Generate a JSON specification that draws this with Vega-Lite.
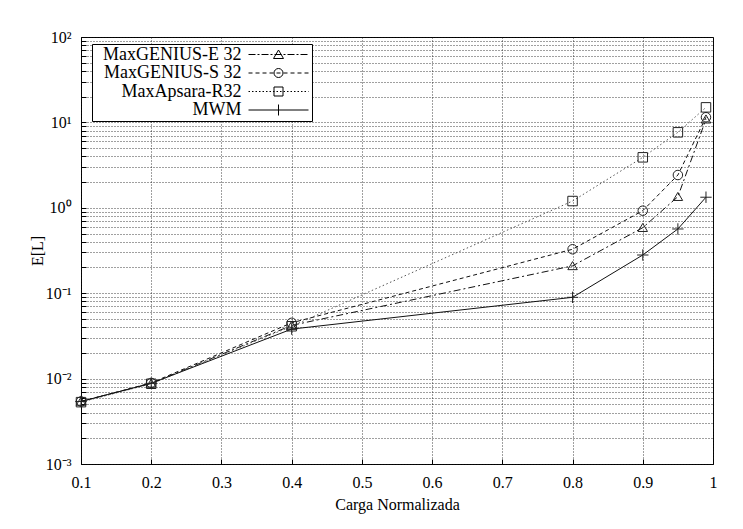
{
  "$schema": "https://vega.github.io/schema/vega-lite/v6.json",
  "width": 632,
  "height": 427,
  "autosize": {"type": "none"},
  "padding": {"left": 81, "top": 37, "right": 30, "bottom": 65},
  "background": "white",
  "config": {
    "view": {"stroke": "black", "strokeWidth": 1},
    "font": "Liberation Serif",
    "axis": {
      "labelFont": "Liberation Serif",
      "titleFont": "Liberation Serif",
      "labelFontSize": 16,
      "titleFontSize": 16,
      "titleFontWeight": "normal",
      "labelColor": "black",
      "titleColor": "black",
      "labelFlush": false,
      "domain": false,
      "grid": true,
      "gridDash": [1, 2],
      "gridColor": "#111",
      "gridOpacity": 0.8,
      "gridWidth": 1,
      "ticks": true,
      "tickSize": -5,
      "tickColor": "black",
      "tickWidth": 1
    }
  },
  "data": {
    "values": [
      {"series": "MaxGENIUS-E 32", "x": 0.1, "y": 0.0054},
      {"series": "MaxGENIUS-E 32", "x": 0.2, "y": 0.0088},
      {"series": "MaxGENIUS-E 32", "x": 0.4, "y": 0.042},
      {"series": "MaxGENIUS-E 32", "x": 0.8, "y": 0.209},
      {"series": "MaxGENIUS-E 32", "x": 0.9, "y": 0.585},
      {"series": "MaxGENIUS-E 32", "x": 0.95, "y": 1.35},
      {"series": "MaxGENIUS-E 32", "x": 0.99, "y": 10.9},
      {"series": "MaxGENIUS-S 32", "x": 0.1, "y": 0.0054},
      {"series": "MaxGENIUS-S 32", "x": 0.2, "y": 0.0089},
      {"series": "MaxGENIUS-S 32", "x": 0.4, "y": 0.045},
      {"series": "MaxGENIUS-S 32", "x": 0.8, "y": 0.327},
      {"series": "MaxGENIUS-S 32", "x": 0.9, "y": 0.925},
      {"series": "MaxGENIUS-S 32", "x": 0.95, "y": 2.42},
      {"series": "MaxGENIUS-S 32", "x": 0.99, "y": 11.5},
      {"series": "MaxApsara-R32", "x": 0.1, "y": 0.0053},
      {"series": "MaxApsara-R32", "x": 0.2, "y": 0.0087},
      {"series": "MaxApsara-R32", "x": 0.4, "y": 0.041},
      {"series": "MaxApsara-R32", "x": 0.8, "y": 1.2},
      {"series": "MaxApsara-R32", "x": 0.9, "y": 3.9},
      {"series": "MaxApsara-R32", "x": 0.95, "y": 7.65},
      {"series": "MaxApsara-R32", "x": 0.99, "y": 15.0},
      {"series": "MWM", "x": 0.1, "y": 0.0054},
      {"series": "MWM", "x": 0.2, "y": 0.0088},
      {"series": "MWM", "x": 0.4, "y": 0.038},
      {"series": "MWM", "x": 0.8, "y": 0.0895},
      {"series": "MWM", "x": 0.9, "y": 0.28},
      {"series": "MWM", "x": 0.95, "y": 0.565},
      {"series": "MWM", "x": 0.99, "y": 1.33}
    ]
  },
  "encoding": {
    "x": {
      "field": "x",
      "type": "quantitative",
      "scale": {"domain": [0.1, 1], "nice": false, "zero": false},
      "axis": {
        "title": "Carga Normalizada",
        "values": [0.1, 0.2, 0.3, 0.4, 0.5, 0.6, 0.7, 0.8, 0.9, 1],
        "format": "~g",
        "labelPadding": 15,
        "titlePadding": 6
      }
    },
    "y": {
      "field": "y",
      "type": "quantitative",
      "scale": {"type": "log", "domain": [0.001, 100], "nice": false},
      "axis": {
        "title": "E[L]",
        "values": [0.001, 0.002, 0.003, 0.004, 0.005, 0.006, 0.007, 0.008, 0.009,
                   0.01, 0.02, 0.03, 0.04, 0.05, 0.06, 0.07, 0.08, 0.09,
                   0.1, 0.2, 0.3, 0.4, 0.5, 0.6, 0.7, 0.8, 0.9,
                   1, 2, 3, 4, 5, 6, 7, 8, 9,
                   10, 20, 30, 40, 50, 60, 70, 80, 90, 100],
        "labelExpr": "datum.value == 100 ? '10²' : datum.value == 10 ? '10¹' : datum.value == 1 ? '10⁰' : datum.value == 0.1 ? '10⁻¹' : datum.value == 0.01 ? '10⁻²' : datum.value == 0.001 ? '10⁻³' : ''",
        "labelPadding": 15,
        "titlePadding": 0
      }
    }
  },
  "layer": [
    {
      "transform": [{"filter": "datum.series == 'MaxGENIUS-E 32'"}],
      "mark": {"type": "line", "strokeWidth": 1, "color": "#111", "strokeDash": [7, 3, 2, 3]},
      "encoding": {}
    },
    {
      "transform": [{"filter": "datum.series == 'MaxGENIUS-S 32'"}],
      "mark": {"type": "line", "strokeWidth": 1, "color": "#111", "strokeDash": [4, 3]},
      "encoding": {}
    },
    {
      "transform": [{"filter": "datum.series == 'MaxApsara-R32'"}],
      "mark": {"type": "line", "strokeWidth": 1, "color": "#555", "strokeDash": [1.5, 2.5]},
      "encoding": {}
    },
    {
      "transform": [{"filter": "datum.series == 'MWM'"}],
      "mark": {"type": "line", "strokeWidth": 1, "color": "#111"},
      "encoding": {}
    },
    {
      "mark": {"type": "point", "filled": false, "strokeWidth": 1, "size": 90, "opacity": 1, "color": "#222"},
      "encoding": {
        "shape": {
          "field": "series",
          "type": "nominal",
          "scale": {"domain": ["MaxGENIUS-E 32", "MaxGENIUS-S 32", "MaxApsara-R32", "MWM"], "range": ["M-1,0.8L0,-0.9L1,0.8Z", "circle", "square", "M-1.2,0H1.2M0,-1.2V1.2"]},
          "legend": null
        }
      }
    },
    {
      "mark": {"type": "point", "filled": false, "opacity": 0, "size": 100, "color": "black"},
      "encoding": {
        "shape": {
          "field": "series",
          "type": "nominal",
          "scale": {"domain": ["MaxGENIUS-E 32", "MaxGENIUS-S 32", "MaxApsara-R32", "MWM"], "range": [
            "M-6,0H-4.6M-4.2,0H-3.8M-3.4,0H-2M-1.6,0H-1.2M-0.8,0H0.6M1,0H1.4M1.8,0H3.2M3.6,0H4M4.4,0H5.8M-1,0.8L0,-0.9L1,0.8Z",
            "M-6,0H-5.2M-4.6,0H-3.8M-3.2,0H-2.4M-1.8,0H-1M-0.4,0H0.4M1,0H1.8M2.4,0H3.2M3.8,0H4.6M5.2,0H6M0.9,0A0.9,0.9,0,1,1,-0.9,0A0.9,0.9,0,1,1,0.9,0Z",
            "M-6,0h0.3M-5.3,0h0.3M-4.6,0h0.3M-3.9,0h0.3M-3.2,0h0.3M-2.5,0h0.3M-1.8,0h0.3M-1.1,0h0.3M-0.4,0h0.3M0.3,0h0.3M1,0h0.3M1.7,0h0.3M2.4,0h0.3M3.1,0h0.3M3.8,0h0.3M4.5,0h0.3M5.2,0h0.3M5.9,0h0.1M-0.9,-0.9H0.9V0.9H-0.9Z",
            "M-6,0H6M0,-1.1V1.1"
          ]},
          "legend": {
            "title": null,
            "orient": "none",
            "legendX": 11,
            "legendY": 7,
            "fillColor": "white",
            "strokeColor": "black",
            "cornerRadius": 0,
            "padding": 1.5,
            "labelFont": "Liberation Serif",
            "labelFontSize": 18,
            "labelColor": "black",
            "labelAlign": "right",
            "labelOffset": -46,
            "symbolOffset": 176,
            "symbolSize": 100,
            "symbolStrokeWidth": 1,
            "symbolStrokeColor": "black",
            "symbolFillColor": "transparent",
            "symbolOpacity": 1,
            "rowPadding": 0.5,
            "labelLimit": 300
          }
        }
      }
    }
  ],
  "resolve": {"scale": {"shape": "independent"}}
}
